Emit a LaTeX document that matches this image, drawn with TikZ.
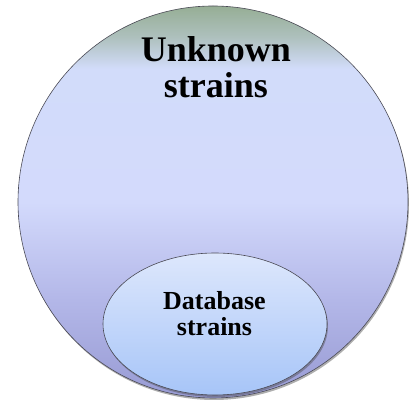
\documentclass[tikz,border=0pt]{standalone}
\usepackage{fontspec}
\setmainfont{Liberation Serif}
\usetikzlibrary{shapes.geometric,shadows}

\definecolor{topgreen}{HTML}{96AE95}
\definecolor{paleblue}{HTML}{D2DCFA}
\definecolor{midblue}{HTML}{D3DAFC}
\definecolor{lowlav}{HTML}{B3B7E8}
\definecolor{botlav}{HTML}{989BD4}
\definecolor{dbtop}{HTML}{DDE7FC}
\definecolor{dbbot}{HTML}{A7C5F8}
\definecolor{rimgray}{HTML}{4A4A55}

\pgfdeclareverticalshading{unknownshade}{100bp}{color(0bp)=(botlav); color(25bp)=(botlav);
  color(37.5bp)=(lowlav); color(50bp)=(midblue); color(67bp)=(paleblue);
  color(71bp)=(topgreen!60!paleblue); color(75bp)=(topgreen); color(100bp)=(topgreen)}

\begin{document}
\begin{tikzpicture}[x=1pt, y=1pt]
      \tikzset{Strains/.style = {ellipse,
          draw = rimgray,
          line width = 0.6pt,
          inner sep = 0pt,
          drop shadow = {shadow xshift = 1pt, shadow yshift = -2pt,
                         opacity = 0.45, fill = black!70}},
        StrainText/.style = {align = center,
          inner sep = 0pt,
          font = \bfseries}}
      \useasboundingbox (0,0) rectangle (413,403);
      \node[Strains, shading = unknownshade,
            minimum width = 390pt, minimum height = 392pt] (unknown) at (213,201) {};
      \node[Strains, top color = dbtop, bottom color = dbbot,
            minimum width = 224pt, minimum height = 142pt] (database) at (215,79) {};
      \node[StrainText, font = \bfseries\fontsize{36}{36}\selectfont,
            anchor = base] (unknownlbl) at (216,305) {Unknown\\strains};
      \node[StrainText, font = \bfseries\fontsize{26}{26}\selectfont,
            anchor = base] (databaselbl) at (214.5,67) {Database\\strains};
    \end{tikzpicture}
\end{document}
